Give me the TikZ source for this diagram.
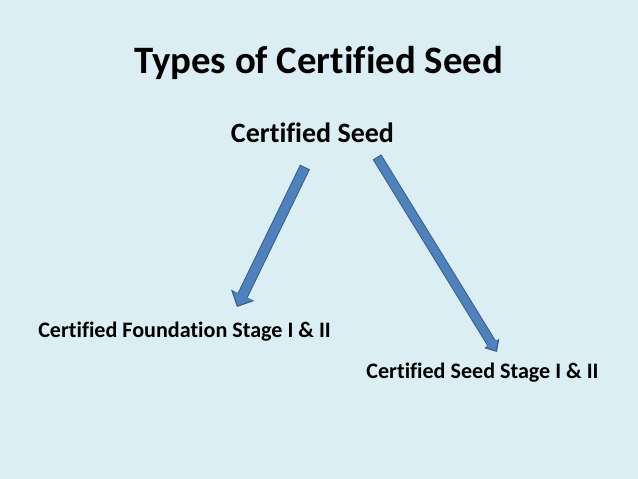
\documentclass[tikz,border=0pt]{standalone}
\usepackage{fontspec}
\setmainfont[Ligatures=NoCommon]{Carlito}
\usetikzlibrary{arrows.meta}
\definecolor{slidebg}{HTML}{DAEEF3}
\definecolor{arrowfill}{HTML}{4F81BD}
\definecolor{arrowline}{HTML}{385D8A}
\tikzset{
  label/.style={inner sep=0pt, font=\bfseries\fontsize{22.1}{24}\selectfont, text=black},
  edgeline/.style={arrowline, line width=#1},
  edgefill/.style={arrowfill, line width=#1, shorten >=1.8pt, shorten <=1pt}
}
\begin{document}
\begin{tikzpicture}[x=1pt, y=-1pt]
\fill[slidebg] (0,0) rectangle (638,479);

% Texts
\node[label, font=\bfseries\fontsize{38.8}{42}\selectfont] (title) at (318.5,62.5) {Types of Certified Seed};
\node[label, font=\bfseries\fontsize{28}{30}\selectfont] (seed) at (312.5,133) {Certified Seed};
\node[label] (found) at (184.5,331.5) {Certified Foundation Stage I \& II};
\node[label] (stage) at (482.5,372.5) {Certified Seed Stage I \& II};

% Ends of arrows
\coordinate (a1) at (305,167);
\coordinate (a2) at (237,307);
\coordinate (b1) at (377,157);
\coordinate (b2) at (497,352);

% Arrows
\draw[edgeline=11pt, -{Triangle[length=13pt,width=25pt]}] (a1) -- (a2);
\draw[edgefill=9pt, -{Triangle[length=11pt,width=21pt]}] (a1) -- (a2);

\draw[edgeline=10pt, -{Triangle[length=10pt,width=17pt]}] (b1) -- (b2);
\draw[edgefill=8pt, -{Triangle[length=8.5pt,width=13.5pt]}] (b1) -- (b2);
\end{tikzpicture}
\end{document}
